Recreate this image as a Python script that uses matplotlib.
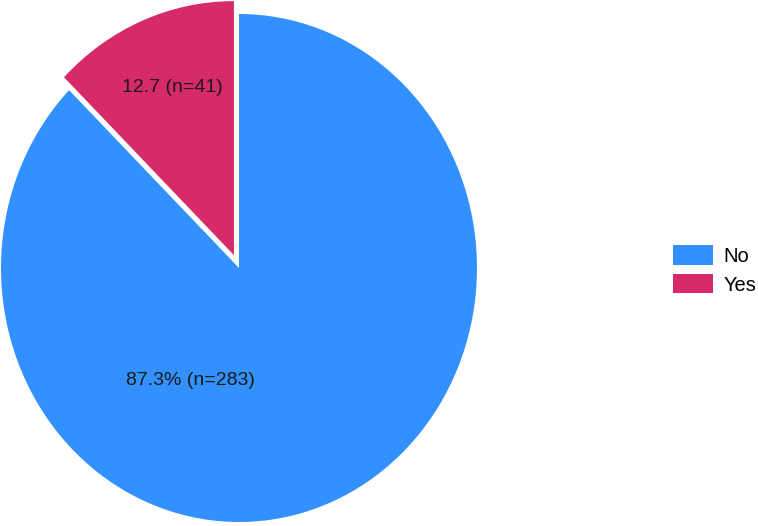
import matplotlib
matplotlib.use("Agg")
import matplotlib.pyplot as plt
from matplotlib.patches import Patch

plt.rcParams["font.family"] = ["Liberation Sans", "DejaVu Sans"]

categories = ["No", "Yes"]
counts = [283, 41]
pct_labels = ["87.3% (n=283)", "12.7 (n=41)"]
colors = ["#3391ff", "#d62a6a"]
explode = [0, 0.055]

fig = plt.figure(figsize=(7.58, 5.26), dpi=100)
ax = fig.add_axes([1 / 758, 4 / 526, 476 / 758, 508 / 526])

wedges, texts = ax.pie(counts, colors=colors, startangle=90, counterclock=False,
                       explode=explode, labels=pct_labels, labeldistance=0.7,
                       textprops=dict(fontsize=14, color="#1a1a1a", ha="center", va="center"),
                       wedgeprops=dict(linewidth=0))
for w in wedges:
    w.set_clip_on(False)
for t in texts:
    t.set_clip_on(False)
    t.set_ha("center")
# label placement as in the reference
texts[0].set_position((-0.206, -0.441))
texts[1].set_position((-0.28, 0.71))

ax.set_aspect("auto")
ax.set_xlim(-1, 1)
ax.set_ylim(-1, 1)
ax.axis("off")

handles = [Patch(facecolor=c, edgecolor="none") for c in colors]
fig.legend(handles, categories, loc="center left", bbox_to_anchor=(673 / 758, 1 - 270 / 526),
           frameon=False, fontsize=14.5, handlelength=2.0, handleheight=1.1,
           handletextpad=0.5, labelspacing=0.4, borderpad=0, borderaxespad=0)

fig.savefig("out.png", dpi=100)
